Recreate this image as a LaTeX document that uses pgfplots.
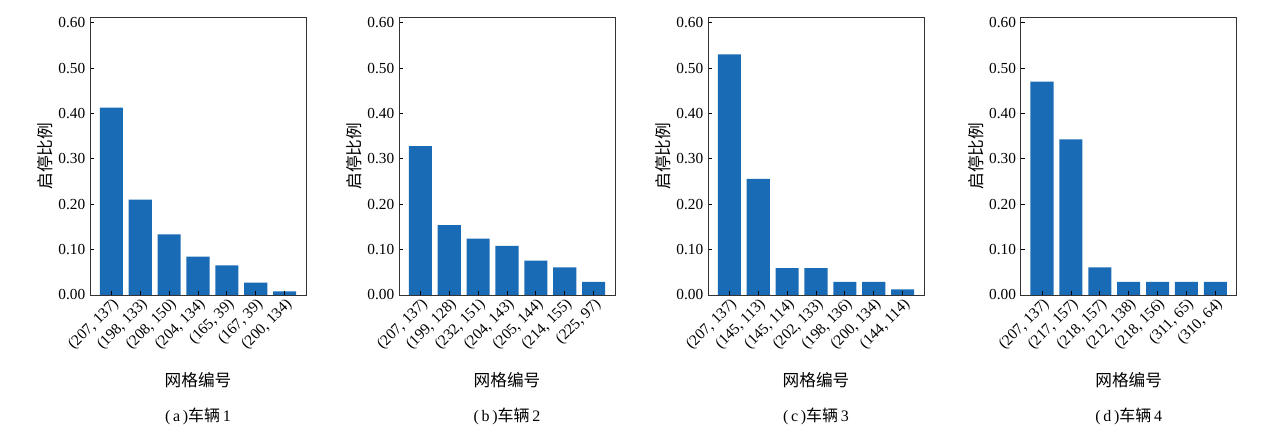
\documentclass[border=0pt]{standalone}
\usepackage{pgfplots}
\pgfplotsset{compat=1.18}
\usepackage{fontspec}
\setmainfont{Liberation Serif}
\newfontfamily\cjk{Noto Sans CJK SC}
\definecolor{barblue}{RGB}{26,107,181}
\pgfplotsset{
 panel/.style={
  scale only axis, width=162pt, height=208.5pt,
  anchor=north west,
  xmin=-0.74, xmax=6.74, ymin=0, ymax=0.6126,
  ytick={0,0.1,0.2,0.3,0.4,0.5,0.6},
  yticklabel style={/pgf/number format/.cd, fixed, fixed zerofill, precision=2},
  /pgf/number format/assume math mode=true,
  xtick={0,1,2,3,4,5,6},
  tick align=inside,
  major tick length=3pt,
  xtick pos=bottom, ytick pos=left,
  axis on top,
  axis line style={draw=black!80, line width=0.6pt},
  tick style={black, line width=0.6pt},
  ticklabel style={font=\fontsize{11.5}{13}\selectfont},
  xticklabel style={rotate=45, anchor=north east, inner sep=1pt},
  ylabel={\cjk 启停比例}, xlabel={\cjk 网格编号},
  label style={font=\fontsize{12.5}{14}\selectfont},
  ylabel style={at={(rel axis cs:0,0.5)}, anchor=center, yshift=33.75pt},
  xlabel style={at={(rel axis cs:0.5,0)}, anchor=center, yshift=-63.75pt},
  title style={at={(rel axis cs:0.5,0)}, anchor=center, yshift=-97pt, font=\fontsize{12}{14}\selectfont},
 },
 mybar/.style={ybar, bar width=0.8, fill=barblue, draw=none},
}
\begin{document}
\begin{tikzpicture}
\path[use as bounding box] (0,0) rectangle (950.25pt,324.75pt);
\begin{axis}[panel, at={(67.5pt,312pt)},
  xticklabels={{(207, 137)},{(198, 133)},{(208, 150)},{(204, 134)},{(165, 39)},{(167, 39)},{(200, 134)}},
  title={(\,a\,){\cjk 车辆}\,1}]
\addplot[mybar] coordinates {(0,0.413) (1,0.210) (2,0.1335) (3,0.0844) (4,0.0653) (5,0.027) (6,0.008)};
\end{axis}
\begin{axis}[panel, at={(299.25pt,312pt)},
  xticklabels={{(207, 137)},{(199, 128)},{(232, 151)},{(204, 143)},{(205, 144)},{(214, 155)},{(225, 97)}},
  title={(\,b\,){\cjk 车辆}\,2}]
\addplot[mybar] coordinates {(0,0.328) (1,0.154) (2,0.124) (3,0.108) (4,0.076) (5,0.061) (6,0.029)};
\end{axis}
\begin{axis}[panel, at={(531pt,312pt)},
  xticklabels={{(207, 137)},{(145, 113)},{(145, 114)},{(202, 133)},{(198, 136)},{(200, 134)},{(144, 114)}},
  title={(\,c\,){\cjk 车辆}\,3}]
\addplot[mybar] coordinates {(0,0.530) (1,0.256) (2,0.059) (3,0.059) (4,0.029) (5,0.029) (6,0.0125)};
\end{axis}
\begin{axis}[panel, at={(765.5pt,312pt)},
  xticklabels={{(207, 137)},{(217, 157)},{(218, 157)},{(212, 138)},{(218, 156)},{(311, 65)},{(310, 64)}},
  title={(\,d\,){\cjk 车辆}\,4}]
\addplot[mybar] coordinates {(0,0.47) (1,0.343) (2,0.061) (3,0.029) (4,0.029) (5,0.029) (6,0.029)};
\end{axis}
\end{tikzpicture}
\end{document}
